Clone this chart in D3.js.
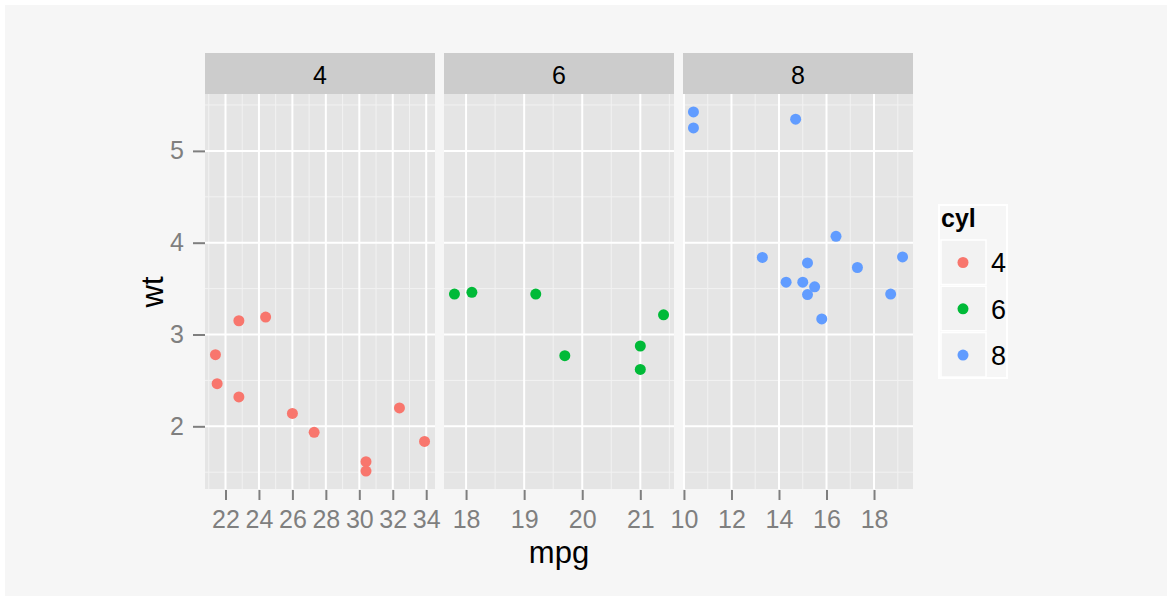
<!DOCTYPE html>
<html><head><meta charset="utf-8">
<script src="https://cdnjs.cloudflare.com/ajax/libs/d3/7.8.5/d3.min.js"></script>
<style>body{margin:0;background:#fff}svg{display:block;font-family:"Liberation Sans",Arial,sans-serif}</style>
</head><body><svg id="c" width="1167" height="596"></svg>
<script>
// mtcars: mpg and wt by cyl
const cylLevels = ["4", "6", "8"];
const colors = ["#F8766D", "#00BA38", "#619CFF"];
const mpg4 = [22.8, 24.4, 22.8, 32.4, 30.4, 33.9, 21.5, 27.3, 26.0, 30.4, 21.4];
const wt4  = [2.320, 3.190, 3.150, 2.200, 1.615, 1.835, 2.465, 1.935, 2.140, 1.513, 2.780];
const mpg6 = [21.0, 21.0, 21.4, 18.1, 19.2, 17.8, 19.7];
const wt6  = [2.620, 2.875, 3.215, 3.460, 3.440, 3.440, 2.770];
const mpg8 = [18.7, 14.3, 16.4, 17.3, 15.2, 10.4, 10.4, 14.7, 15.5, 15.2, 13.3, 19.2, 15.8, 15.0];
const wt8  = [3.440, 3.570, 4.070, 3.730, 3.780, 5.250, 5.424, 5.345, 3.520, 3.435, 3.840, 3.845, 3.170, 3.570];
const xTicks4 = [22, 24, 26, 28, 30, 32, 34];
const xTicks6 = [18, 19, 20, 21];
const xTicks8 = [10, 12, 14, 16, 18];
const xMinor4 = [21, 23, 25, 27, 29, 31, 33];
const xMinor6 = [18.5, 19.5, 20.5, 21.5];
const xMinor8 = [11, 13, 15, 17, 19];
const yTicks = [2, 3, 4, 5];
const yMinor = [1.5, 2.5, 3.5, 4.5, 5.5];

const panels = [
  {lab: "4", mpg: mpg4, wt: wt4, ticks: xTicks4, minor: xMinor4, col: colors[0]},
  {lab: "6", mpg: mpg6, wt: wt6, ticks: xTicks6, minor: xMinor6, col: colors[1]},
  {lab: "8", mpg: mpg8, wt: wt8, ticks: xTicks8, minor: xMinor8, col: colors[2]}
];

const svg = d3.select("#c");
svg.append("rect").attr("x", 5).attr("y", 5).attr("width", 1162).attr("height", 591).attr("fill", "#f6f6f6");

const pTop = 94, pBottom = 489, stripTop = 53;
const panelW = 230, gap = 9, left0 = 205;
const allWt = wt4.concat(wt6, wt8);
const wext = d3.extent(allWt), wpad = (wext[1] - wext[0]) * 0.05;
const y = d3.scaleLinear().domain([wext[0] - wpad, wext[1] + wpad]).range([pBottom, pTop]);

panels.forEach((p, i) => {
  const x0 = left0 + i * (panelW + gap);
  const ext = d3.extent(p.mpg), pad = (ext[1] - ext[0]) * 0.05;
  const x = d3.scaleLinear().domain([ext[0] - pad, ext[1] + pad]).range([x0, x0 + panelW]);
  const g = svg.append("g");
  g.append("rect").attr("x", x0).attr("y", pTop).attr("width", panelW).attr("height", pBottom - pTop).attr("fill", "#e5e5e5");
  // strip
  g.append("rect").attr("x", x0).attr("y", stripTop).attr("width", panelW).attr("height", pTop - stripTop).attr("fill", "#cccccc");
  g.append("text").attr("x", x0 + panelW / 2).attr("y", 84).attr("text-anchor", "middle")
    .attr("font-size", 25).attr("fill", "#000").text(p.lab);
  // minor grid
  g.selectAll(".ym").data(yMinor.filter(v => v >= y.domain()[0] && v <= y.domain()[1])).join("line")
    .attr("x1", x0).attr("x2", x0 + panelW).attr("y1", d => y(d)).attr("y2", d => y(d))
    .attr("stroke", "#f2f2f2").attr("stroke-width", 1);
  g.selectAll(".xm").data(p.minor.filter(v => v >= x.domain()[0] && v <= x.domain()[1])).join("line")
    .attr("y1", pTop).attr("y2", pBottom).attr("x1", d => x(d)).attr("x2", d => x(d))
    .attr("stroke", "#f2f2f2").attr("stroke-width", 1);
  // major grid
  g.selectAll(".yM").data(yTicks).join("line")
    .attr("x1", x0).attr("x2", x0 + panelW).attr("y1", d => y(d)).attr("y2", d => y(d))
    .attr("stroke", "#ffffff").attr("stroke-width", 2);
  g.selectAll(".xM").data(p.ticks).join("line")
    .attr("y1", pTop).attr("y2", pBottom).attr("x1", d => x(d)).attr("x2", d => x(d))
    .attr("stroke", "#ffffff").attr("stroke-width", 2);
  // x axis
  const ax = svg.append("g").attr("transform", `translate(0,${pBottom})`)
    .call(d3.axisBottom(x).tickValues(p.ticks).tickSize(11).tickPadding(10).tickFormat(d3.format("d")));
  ax.select(".domain").remove();
  ax.selectAll("line").attr("stroke", "#7f7f7f").attr("stroke-width", 2).attr("y1", 1);
  ax.selectAll("text").attr("fill", "#7f7f7f").attr("font-size", 25).attr("font-family", "Liberation Sans, Arial, sans-serif");
  // points
  g.selectAll("circle").data(p.mpg.map((m, k) => [m, p.wt[k]])).join("circle")
    .attr("cx", d => x(d[0])).attr("cy", d => y(d[1])).attr("r", 5.5).attr("fill", p.col);
});

// y axis
const ay = svg.append("g").attr("transform", `translate(${left0},0)`)
  .call(d3.axisLeft(y).tickValues(yTicks).tickSize(12).tickPadding(9).tickFormat(d3.format("d")));
ay.select(".domain").remove();
ay.selectAll("line").attr("stroke", "#7f7f7f").attr("stroke-width", 2);
ay.selectAll("text").attr("fill", "#7f7f7f").attr("font-size", 25).attr("font-family", "Liberation Sans, Arial, sans-serif");

// axis titles
svg.append("text").attr("x", (left0 + left0 + 3 * panelW + 2 * gap) / 2).attr("y", 563)
  .attr("text-anchor", "middle").attr("font-size", 31).attr("fill", "#000").text("mpg");
svg.append("text").attr("transform", "translate(163,292) rotate(-90)")
  .attr("text-anchor", "middle").attr("font-size", 31).attr("fill", "#000").text("wt");

// legend
const lg = svg.append("g");
lg.append("rect").attr("x", 939).attr("y", 205).attr("width", 68).attr("height", 173)
  .attr("fill", "none").attr("stroke", "#ffffff").attr("stroke-width", 2);
lg.append("text").attr("x", 941).attr("y", 227).attr("font-size", 25).attr("font-weight", "bold").text("cyl");
cylLevels.forEach((c, i) => {
  const ky = 240 + i * 46.3;
  lg.append("rect").attr("x", 941).attr("y", ky).attr("width", 45).attr("height", 44.5)
    .attr("fill", "#f2f2f2").attr("stroke", "#ffffff").attr("stroke-width", 1.5);
  lg.append("circle").attr("cx", 963).attr("cy", ky + 22.5).attr("r", 5.5).attr("fill", colors[i]);
  lg.append("text").attr("x", 991).attr("y", ky + 22.5).attr("dy", "0.36em").attr("font-size", 27).text(c);
});
</script></body></html>
